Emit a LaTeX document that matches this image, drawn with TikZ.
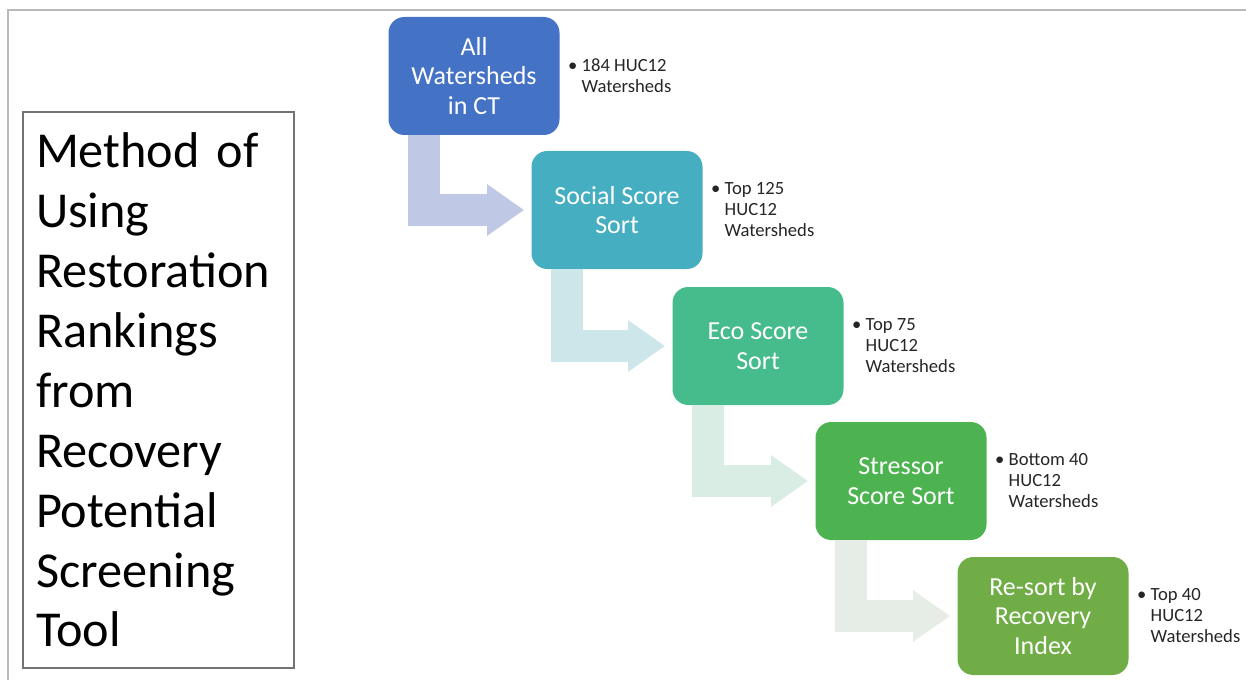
\documentclass[tikz,border=0pt]{standalone}
\usepackage{fontspec}
\setmainfont{Carlito}
\usetikzlibrary{arrows.meta, positioning}
\definecolor{allblue}{RGB}{68, 114, 196}
\definecolor{socialteal}{RGB}{69, 174, 193}
\definecolor{ecogreen}{RGB}{70, 187, 140}
\definecolor{stressgreen}{RGB}{76, 179, 80}
\definecolor{resortgreen}{RGB}{112, 173, 71}
\definecolor{allpale}{RGB}{191, 200, 228}
\definecolor{socialpale}{RGB}{205, 230, 234}
\definecolor{ecopale}{RGB}{218, 237, 228}
\definecolor{stresspale}{RGB}{230, 237, 230}
\newcommand{\bul}{\textbullet\ }
\newcommand{\nobul}{\hphantom{\textbullet\ }}

\begin{document}
\begin{tikzpicture}[
  box/.style={rounded corners=9pt, minimum width=3.42cm, minimum height=2.36cm,
              inner sep=2pt, align=center, text=white,
              font=\fontsize{14.8}{16.8}\selectfont},
  note/.style={inner sep=0pt, align=left, text=black!85,
               font=\fontsize{10.6}{11.95}\selectfont},
  flow/.style={line width=0.64cm, -{Triangle[length=0.74cm, width=0.98cm]},
               shorten >=0.14cm},
]
\useasboundingbox (0, 0) rectangle (24.92, -13.6);
\draw[gray!55, line width=0.8pt] (0.16, -13.6) |- (24.92, -0.2);

% Title
\node[draw=black!55, line width=0.6pt, minimum width=5.42cm, minimum height=11.12cm,
      text width=4.9cm, inner xsep=0.26cm, inner ysep=0.1cm, align=left,
      font=\fontsize{28.6}{34.1}\selectfont] (title) at (3.17, -7.8)
{Method of\\Using\\Restoration\\Rankings\\from\\Recovery\\Potential\\Screening\\Tool};

% Steps
\node[box, fill=allblue] (all) at (9.48, -1.52) {All\\Watersheds\\in CT};
\node[box, fill=socialteal] (social) at (12.34, -4.2) {Social Score\\Sort};
\node[box, fill=ecogreen] (eco) at (15.16, -6.92) {Eco Score\\Sort};
\node[box, fill=stressgreen] (stress) at (18.02, -9.62) {Stressor\\Score Sort};
\node[box, fill=resortgreen] (resort) at (20.86, -12.32) {Re-sort by\\Recovery\\Index};

\draw[flow, allpale] ([xshift=0.72cm]all.south west) |- (social.west);
\draw[flow, socialpale] ([xshift=0.72cm]social.south west) |- (eco.west);
\draw[flow, ecopale] ([xshift=0.72cm]eco.south west) |- (stress.west);
\draw[flow, stresspale] ([xshift=0.72cm]stress.south west) |- (resort.west);

% Counts
\node[note, right=0.16cm of all] (allnote) {\bul 184 HUC12\\\nobul Watersheds};
\node[note, right=0.16cm of social] (socialnote) {\bul Top 125\\\nobul HUC12\\\nobul Watersheds};
\node[note, right=0.16cm of eco] (econote) {\bul Top 75\\\nobul HUC12\\\nobul Watersheds};
\node[note, right=0.16cm of stress] (stressnote) {\bul Bottom 40\\\nobul HUC12\\\nobul Watersheds};
\node[note, right=0.16cm of resort] (resortnote) {\bul Top 40\\\nobul HUC12\\\nobul Watersheds};
\end{tikzpicture}
\end{document}
